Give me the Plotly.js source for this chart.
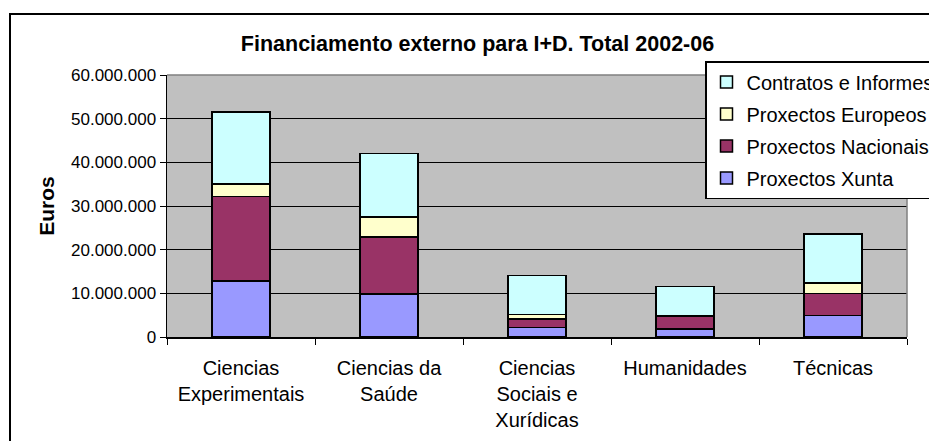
<!DOCTYPE html>
<html>
<head>
<meta charset="utf-8">
<script src="https://cdn.plot.ly/plotly-3.0.1.min.js"></script>
<style>
  html, body { margin: 0; padding: 0; background: #fff; }
  #chart { width: 929px; height: 441px; }
</style>
</head>
<body>
<div id="chart"></div>
<script>
// areas (x axis)
const categories = [
  'Ciencias<br>Experimentais',
  'Ciencias da<br>Saúde',
  'Ciencias<br>Sociais e<br>Xurídicas',
  'Humanidades',
  'Técnicas'
]

// euros per funding source
const xunta = [12800000, 9850000, 2230000, 1850000, 4920000]
const nacionais = [19350000, 13050000, 1850000, 2920000, 5000000]
const europeos = [2850000, 4600000, 1070000, 50000, 2420000]
const contratos = [16500000, 14500000, 8930000, 6770000, 11260000]

const seriesNames = ['Proxectos Xunta', 'Proxectos Nacionais', 'Proxectos Europeos', 'Contratos e Informes']
const seriesColors = ['#9999FF', '#993366', '#FFFFCC', '#CCFFFF']

const FONT = 'Arial, "Liberation Sans", sans-serif'

// legend lists the top of the stack first
const makeTrace = (values, i) => ({
  x: categories,
  y: values,
  type: 'bar',
  name: seriesNames[i],
  legendgroup: 'g' + i,
  legendrank: 100 - i,
  marker: { color: seriesColors[i], line: { color: '#000', width: 1.5 } },
  hoverinfo: 'x+y+name'
})

const data = [xunta, nacionais, europeos, contratos].map(makeTrace)

const layout = {
  width: 929,
  height: 441,
  margin: { l: 167, r: 22, t: 75, b: 104, autoexpand: false },
  paper_bgcolor: '#fff',
  plot_bgcolor: '#C0C0C0',
  separators: ',.',
  barmode: 'stack',
  bargap: 0.61,
  font: { family: FONT, color: '#000' },
  title: {
    text: '<b>Financiamento externo para I+D. Total 2002-06</b>',
    font: { family: FONT, size: 21.5, color: '#000' },
    xref: 'container',
    x: 0.514,
    xanchor: 'center',
    yref: 'container',
    y: 1 - 43 / 441,
    yanchor: 'middle'
  },
  xaxis: {
    type: 'category',
    tickson: 'boundaries',
    ticks: 'outside',
    ticklen: 6,
    tickcolor: '#000',
    tickwidth: 1,
    showgrid: false,
    showline: true,
    linecolor: '#000',
    linewidth: 1.5,
    tickfont: { family: FONT, size: 20, color: '#000' },
    ticklabelstandoff: 12
  },
  yaxis: {
    range: [0, 60000000],
    dtick: 10000000,
    tickformat: ',d',
    ticks: 'outside',
    ticklen: 6,
    tickcolor: '#000',
    showline: true,
    linecolor: '#000',
    linewidth: 1.5,
    showgrid: true,
    gridcolor: '#000',
    gridwidth: 1,
    zeroline: false,
    tickfont: { family: FONT, size: 17, color: '#000' },
    title: {
      text: '<b>Euros</b>',
      font: { family: FONT, size: 21, color: '#000' },
      standoff: 10
    }
  },
  legend: {
    x: (705 - 167) / 740,
    xanchor: 'left',
    y: (337 - 61) / 262,
    yanchor: 'top',
    traceorder: 'grouped',
    tracegroupgap: 3,
    bgcolor: '#fff',
    bordercolor: '#000',
    borderwidth: 1.5,
    font: { family: FONT, size: 20, color: '#000' }
  },
  shapes: [
    // grey top/right edge of the plot area
    { type: 'path', xref: 'paper', yref: 'paper', path: 'M0,1 L1,1 L1,0',
      line: { color: '#808080', width: 1.5 }, layer: 'above' },
    // outer chart frame (left and top edges visible)
    { type: 'path', xref: 'paper', yref: 'paper',
      path: 'M' + ((10 - 167) / 740) + ',-0.6 L' + ((10 - 167) / 740) + ',' + ((337 - 14) / 262) +
        ' L1.2,' + ((337 - 14) / 262),
      line: { color: '#000', width: 2 }, layer: 'above' }
  ],
  showlegend: true
}

try {
  Plotly.newPlot('chart', data, layout, { displayModeBar: false, staticPlot: true })
} catch (e) {
  console.log('ERR', e)
}
</script>
</body>
</html>
